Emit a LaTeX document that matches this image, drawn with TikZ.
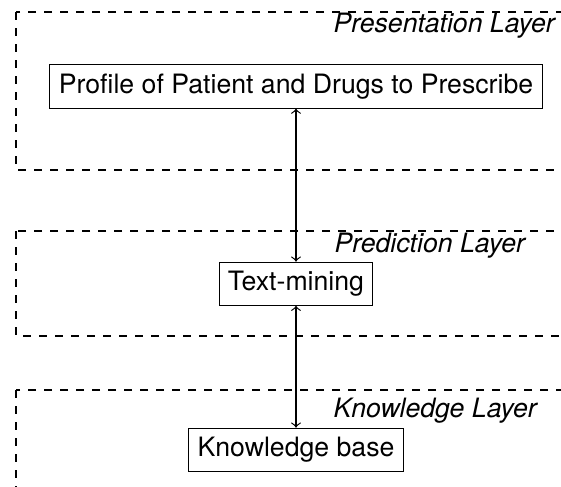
\documentclass[tikz,border=0pt]{standalone}
\usepackage{fontspec}
\setmainfont{TeX Gyre Heros}
\begin{document}
\begin{tikzpicture}[x=0.375pt,y=-0.375pt,
  font=\fontsize{10}{12}\selectfont,
  layerbox/.style={dashed,line width=0.55pt},
  layername/.style={anchor=base west,inner sep=0pt,font=\fontsize{10}{12}\selectfont\itshape},
  block/.style={draw,line width=0.4pt,inner sep=0.3333em},
  link/.style={<->,line width=0.45pt}]
  \useasboundingbox (0,0) rectangle (561,486);
  \clip (0,0) rectangle (561,486);

  % layers (open to the right and bottom)
  \draw[layerbox] (16,12) rectangle (620,170);
  \draw[layerbox] (16,231) rectangle (620,336);
  \draw[layerbox] (16,390) rectangle (620,540);

  \node[layername] (lp) at (333,32) {Presentation Layer};
  \node[layername] (lr) at (334,252.5) {Prediction Layer};
  \node[layername] (lk) at (333,417.7) {Knowledge Layer};

  % components
  \node[block] (prof) at (296,86.5) {Profile of Patient and Drugs to Prescribe};
  \node[block] (tm) at (296,283.7) {Text-mining};
  \node[block] (kb) at (296,449.7) {Knowledge base};

  \draw[link] (prof.south) -- (tm.north);
  \draw[link] (tm.south) -- (kb.north);
\end{tikzpicture}
\end{document}
